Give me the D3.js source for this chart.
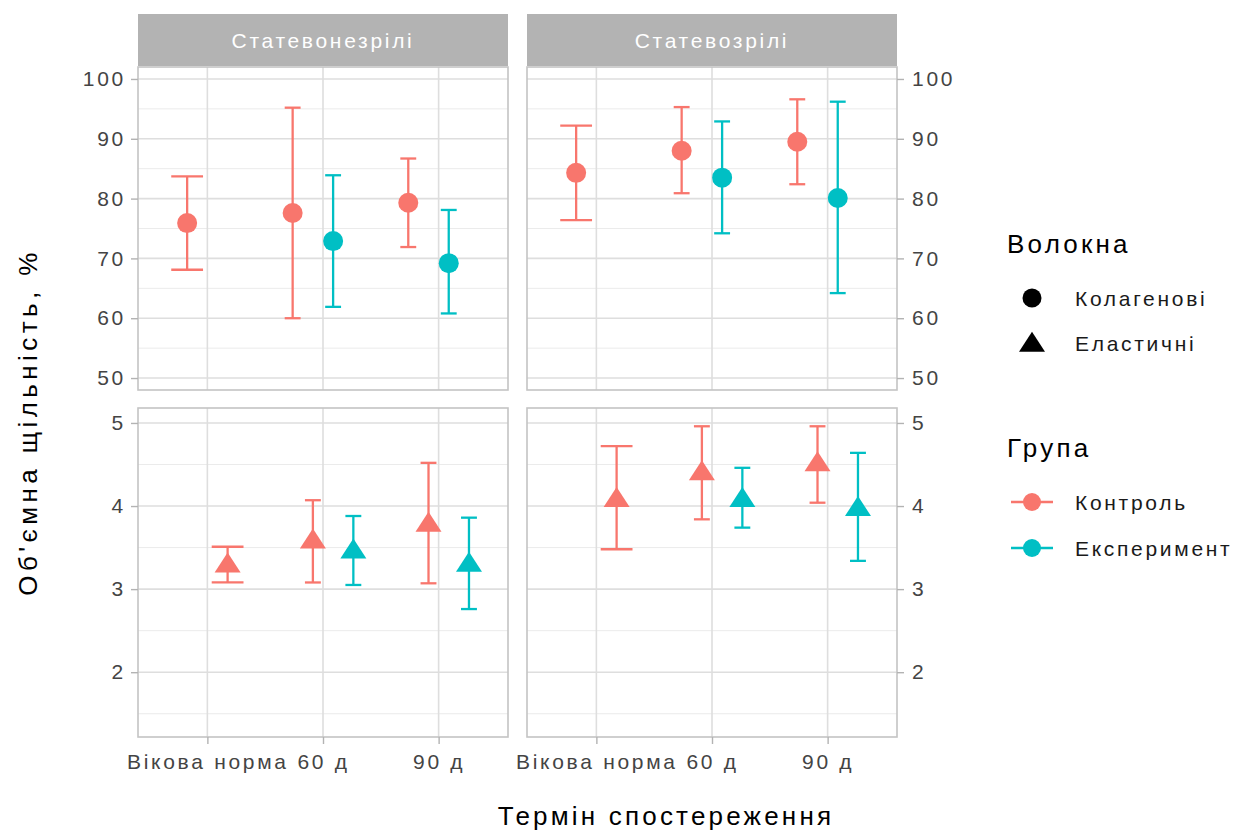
<!DOCTYPE html>
<html>
<head>
<meta charset="utf-8">
<script src="https://cdn.jsdelivr.net/npm/d3@7"></script>
<style>
  html, body { margin: 0; padding: 0; background: #ffffff; }
  svg { display: block; }
  text { font-family: "Liberation Sans", Arial, sans-serif; }
</style>
</head>
<body>
<div id="chart"></div>
<script>
// ---------------- DATA ----------------
const timeLabels = ["Вікова норма", "60 д", "90 д"];
const maturityLabels = ["Статевонезрілі", "Статевозрілі"];
const fibreLabels = ["Колагенові", "Еластичні"];
const groupLabels = ["Контроль", "Експеримент"];

const yTicksCollagen = [50, 60, 70, 80, 90, 100];
const yMinorCollagen = [55, 65, 75, 85, 95];
const yTicksElastic = [2, 3, 4, 5];
const yMinorElastic = [1.5, 2.5, 3.5, 4.5];

const obsMaturity = [
  "Статевонезрілі","Статевонезрілі","Статевонезрілі","Статевонезрілі","Статевонезрілі",
  "Статевозрілі","Статевозрілі","Статевозрілі","Статевозрілі","Статевозрілі",
  "Статевонезрілі","Статевонезрілі","Статевонезрілі","Статевонезрілі","Статевонезрілі",
  "Статевозрілі","Статевозрілі","Статевозрілі","Статевозрілі","Статевозрілі"
];
const obsFibre = [
  "Колагенові","Колагенові","Колагенові","Колагенові","Колагенові",
  "Колагенові","Колагенові","Колагенові","Колагенові","Колагенові",
  "Еластичні","Еластичні","Еластичні","Еластичні","Еластичні",
  "Еластичні","Еластичні","Еластичні","Еластичні","Еластичні"
];
const obsTime = [
  "Вікова норма","60 д","60 д","90 д","90 д",
  "Вікова норма","60 д","60 д","90 д","90 д",
  "Вікова норма","60 д","60 д","90 д","90 д",
  "Вікова норма","60 д","60 д","90 д","90 д"
];
const obsGroup = [
  "Контроль","Контроль","Експеримент","Контроль","Експеримент",
  "Контроль","Контроль","Експеримент","Контроль","Експеримент",
  "Контроль","Контроль","Експеримент","Контроль","Експеримент",
  "Контроль","Контроль","Експеримент","Контроль","Експеримент"
];
const obsMean = [
  75.9, 77.6, 72.9, 79.3, 69.2,
  84.3, 88.0, 83.5, 89.5, 80.1,
  3.28, 3.57, 3.45, 3.77, 3.29,
  4.07, 4.39, 4.07, 4.50, 3.96
];
const obsLower = [
  68.1, 60.0, 61.9, 71.9, 60.8,
  76.4, 80.9, 74.2, 82.4, 64.2,
  3.08, 3.08, 3.05, 3.07, 2.76,
  3.48, 3.84, 3.74, 4.04, 3.34
];
const obsUpper = [
  83.7, 95.2, 83.9, 86.7, 78.1,
  92.2, 95.3, 92.9, 96.6, 96.2,
  3.51, 4.07, 3.88, 4.52, 3.86,
  4.72, 4.96, 4.46, 4.96, 4.64
];

const groupColors = ["#F8766D", "#00BFC4"];

// ---------------- LAYOUT ----------------
const W = 1236, H = 832;
const colX = [[138, 508], [527, 897]];
const rowY = [[67, 390], [408, 737]];
const stripY = [14, 66];
const yDomains = [[48, 102], [1.22, 5.18]];
const yTicks = [yTicksCollagen, yTicksElastic];
const yMinor = [yMinorCollagen, yMinorElastic];
const dodgeWidth = 0.7;   // in x-category units
const capWidth = 0.55;    // in x-category units (before dodge division)
const smallFont = 21, titleFont = 26;
const smallSpacing = "2.7px", titleSpacing = "3.2px";

const svg = d3.select("#chart").append("svg")
  .attr("width", W).attr("height", H);
svg.append("rect").attr("width", W).attr("height", H).attr("fill", "#ffffff");

const data = obsMean.map((m, i) => ({
  maturity: obsMaturity[i], fibre: obsFibre[i], time: obsTime[i], group: obsGroup[i],
  mean: m, lower: obsLower[i], upper: obsUpper[i]
}));

// dodge: groups = interaction(group, fibre), counted across rows in a column
const dodgeOrder = [];
groupLabels.forEach(g => fibreLabels.forEach(f => dodgeOrder.push(g + "|" + f)));
data.forEach(d => {
  const present = dodgeOrder.filter(k => data.some(e =>
    e.maturity === d.maturity && e.time === d.time && (e.group + "|" + e.fibre) === k));
  const n = present.length;
  const rank = present.indexOf(d.group + "|" + d.fibre);
  d.n = n;
  d.offset = (rank - (n - 1) / 2) * dodgeWidth / n;
});

const triPath = (w, h) => `M0,${-2 * h / 3}L${w / 2},${h / 3}L${-w / 2},${h / 3}Z`;

maturityLabels.forEach((mat, ci) => {
  const x = d3.scalePoint().domain(timeLabels).range(colX[ci]).padding(0.6);
  const step = x.step();

  svg.append("rect")
    .attr("x", colX[ci][0]).attr("y", stripY[0])
    .attr("width", colX[ci][1] - colX[ci][0]).attr("height", stripY[1] - stripY[0])
    .attr("fill", "#B3B3B3");
  svg.append("text")
    .attr("x", (colX[ci][0] + colX[ci][1]) / 2).attr("y", 48)
    .attr("text-anchor", "middle")
    .attr("font-size", smallFont).style("letter-spacing", smallSpacing)
    .attr("fill", "#ffffff")
    .text(mat);

  fibreLabels.forEach((fib, ri) => {
    const y = d3.scaleLinear().domain(yDomains[ri]).range([rowY[ri][1], rowY[ri][0]]);
    const g = svg.append("g");

    g.append("rect")
      .attr("x", colX[ci][0]).attr("y", rowY[ri][0])
      .attr("width", colX[ci][1] - colX[ci][0]).attr("height", rowY[ri][1] - rowY[ri][0])
      .attr("fill", "#ffffff");

    g.selectAll(".minor").data(yMinor[ri]).join("line")
      .attr("x1", colX[ci][0]).attr("x2", colX[ci][1])
      .attr("y1", d => y(d)).attr("y2", d => y(d))
      .attr("stroke", "#EBEBEB").attr("stroke-width", 1);
    g.selectAll(".majorY").data(yTicks[ri]).join("line")
      .attr("x1", colX[ci][0]).attr("x2", colX[ci][1])
      .attr("y1", d => y(d)).attr("y2", d => y(d))
      .attr("stroke", "#DEDEDE").attr("stroke-width", 1.6);
    g.selectAll(".majorX").data(timeLabels).join("line")
      .attr("x1", d => x(d)).attr("x2", d => x(d))
      .attr("y1", rowY[ri][0]).attr("y2", rowY[ri][1])
      .attr("stroke", "#DEDEDE").attr("stroke-width", 1.6);

    const pd = data.filter(d => d.maturity === mat && d.fibre === fib);
    const cx = d => x(d.time) + d.offset * step;
    const col = d => groupColors[groupLabels.indexOf(d.group)];

    const eb = g.selectAll(".eb").data(pd).join("g");
    eb.append("line")
      .attr("x1", cx).attr("x2", cx)
      .attr("y1", d => y(d.lower)).attr("y2", d => y(d.upper))
      .attr("stroke", col).attr("stroke-width", 2.3);
    eb.append("line")
      .attr("x1", d => cx(d) - capWidth / d.n * step / 2)
      .attr("x2", d => cx(d) + capWidth / d.n * step / 2)
      .attr("y1", d => y(d.upper)).attr("y2", d => y(d.upper))
      .attr("stroke", col).attr("stroke-width", 2.3);
    eb.append("line")
      .attr("x1", d => cx(d) - capWidth / d.n * step / 2)
      .attr("x2", d => cx(d) + capWidth / d.n * step / 2)
      .attr("y1", d => y(d.lower)).attr("y2", d => y(d.lower))
      .attr("stroke", col).attr("stroke-width", 2.3);

    if (fib === "Колагенові") {
      g.selectAll(".pt").data(pd).join("circle")
        .attr("cx", cx).attr("cy", d => y(d.mean)).attr("r", 10)
        .attr("fill", col);
    } else {
      g.selectAll(".pt").data(pd).join("path")
        .attr("d", triPath(26, 20))
        .attr("transform", d => `translate(${cx(d)},${y(d.mean)})`)
        .attr("fill", col);
    }

    g.append("rect")
      .attr("x", colX[ci][0]).attr("y", rowY[ri][0])
      .attr("width", colX[ci][1] - colX[ci][0]).attr("height", rowY[ri][1] - rowY[ri][0])
      .attr("fill", "none").attr("stroke", "#C4C4C4").attr("stroke-width", 1.6);

    const yAxis = (ci === 0 ? d3.axisLeft(y) : d3.axisRight(y))
      .tickValues(yTicks[ri]).tickSize(7).tickPadding(ci === 0 ? 5 : 8)
      .tickFormat(d3.format("d"));
    const ya = svg.append("g")
      .attr("transform", `translate(${ci === 0 ? colX[ci][0] : colX[ci][1]},0)`)
      .call(yAxis);
    ya.select(".domain").remove();
    ya.selectAll(".tick line").attr("stroke", "#B3B3B3").attr("stroke-width", 1.4);
    ya.selectAll(".tick text").attr("fill", "#444444")
      .attr("font-size", smallFont).style("letter-spacing", smallSpacing)
      .attr("font-family", "Liberation Sans, Arial, sans-serif");

    if (ri === 1) {
      const xa = svg.append("g")
        .attr("transform", `translate(0,${rowY[ri][1]})`)
        .call(d3.axisBottom(x).tickSize(7).tickPadding(10));
      xa.select(".domain").remove();
      xa.selectAll(".tick line").attr("stroke", "#B3B3B3").attr("stroke-width", 1.4);
      xa.selectAll(".tick text").attr("fill", "#444444")
        .attr("font-size", smallFont).style("letter-spacing", smallSpacing)
        .attr("font-family", "Liberation Sans, Arial, sans-serif");
    }
  });
});

// axis titles
svg.append("text")
  .attr("x", 666).attr("y", 825).attr("text-anchor", "middle")
  .attr("font-size", titleFont).style("letter-spacing", titleSpacing)
  .attr("fill", "#000000")
  .text("Термін спостереження");
svg.append("text")
  .attr("transform", "translate(37,422) rotate(-90)")
  .attr("text-anchor", "middle")
  .attr("font-size", titleFont).style("letter-spacing", "4.4px")
  .attr("fill", "#000000")
  .text("Об'ємна щільність, %");

// legends
const lg = svg.append("g");
lg.append("text").attr("x", 1007).attr("y", 253)
  .attr("font-size", titleFont).style("letter-spacing", titleSpacing).attr("fill", "#000")
  .text("Волокна");
const shapeRows = [298, 343];
fibreLabels.forEach((f, i) => {
  if (i === 0) {
    lg.append("circle").attr("cx", 1032).attr("cy", shapeRows[i]).attr("r", 9.5).attr("fill", "#000");
  } else {
    lg.append("path").attr("d", triPath(26, 20))
      .attr("transform", `translate(1032,${shapeRows[i] + 2})`).attr("fill", "#000");
  }
  lg.append("text").attr("x", 1075).attr("y", shapeRows[i] + 8)
    .attr("font-size", smallFont).style("letter-spacing", smallSpacing).attr("fill", "#1a1a1a")
    .text(f);
});

lg.append("text").attr("x", 1007).attr("y", 457)
  .attr("font-size", titleFont).style("letter-spacing", titleSpacing).attr("fill", "#000")
  .text("Група");
const groupRows = [502, 548];
groupLabels.forEach((gname, i) => {
  lg.append("line").attr("x1", 1011).attr("x2", 1053)
    .attr("y1", groupRows[i]).attr("y2", groupRows[i])
    .attr("stroke", groupColors[i]).attr("stroke-width", 2.3);
  lg.append("circle").attr("cx", 1032).attr("cy", groupRows[i]).attr("r", 9)
    .attr("fill", groupColors[i]);
  lg.append("text").attr("x", 1075).attr("y", groupRows[i] + 8)
    .attr("font-size", smallFont).style("letter-spacing", smallSpacing).attr("fill", "#1a1a1a")
    .text(gname);
});
</script>
</body>
</html>
